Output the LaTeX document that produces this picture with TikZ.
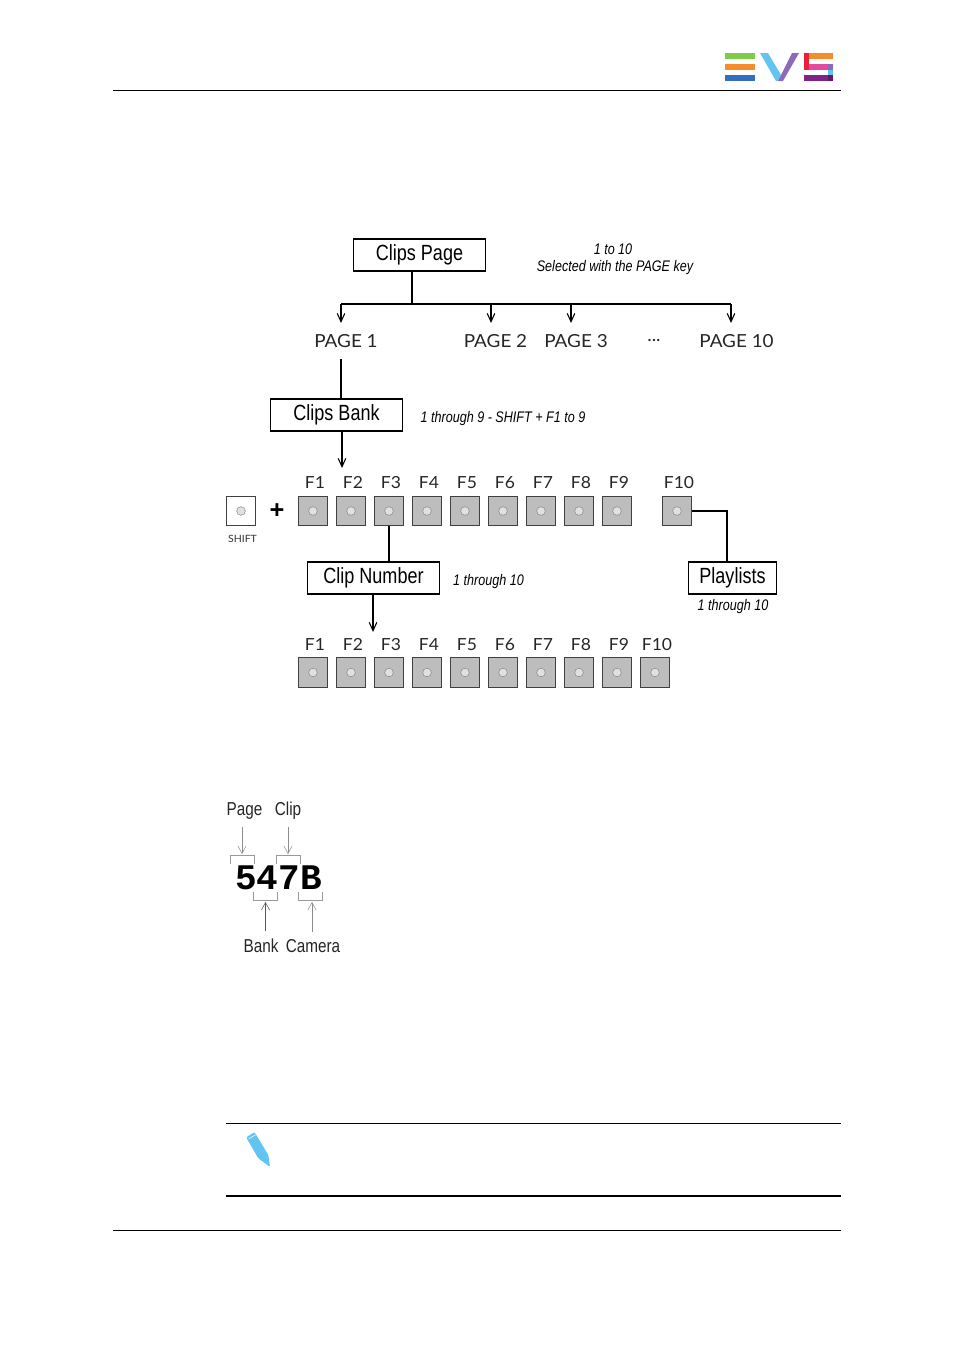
\documentclass[tikz,border=0pt]{standalone}
\usepackage{fontspec}
\setmainfont{Liberation Sans}
\newfontfamily\narrowfont[FakeStretch=0.82]{Liberation Sans}
\newfontfamily\keyfont[FakeStretch=1.05]{Lato}
\newfontfamily\codefont{Liberation Mono}
\usetikzlibrary{arrows.meta, positioning, calc}

\definecolor{evsgreen}{RGB}{126,204,70}
\definecolor{evsorange}{RGB}{245,140,45}
\definecolor{evsblue}{RGB}{50,112,190}
\definecolor{evssky}{RGB}{98,196,240}
\definecolor{evsviolet}{RGB}{140,105,185}
\definecolor{evsred}{RGB}{232,32,60}
\definecolor{evspink}{RGB}{228,75,160}
\definecolor{evspurple}{RGB}{130,35,140}

\begin{document}
\begin{tikzpicture}[x=0.75pt, y=-0.75pt,
    titlebox/.style={
        rectangle, draw, line width=0.9pt, minimum height=24pt, inner sep=0pt,
        font=\narrowfont\fontsize{16.5}{18}\selectfont
    },
    keybox/.style={
        rectangle, draw=black!75, line width=0.8pt, fill=black!26, minimum size=22pt, inner sep=0pt
    },
    dot/.style={circle, draw=black!45, line width=0.4pt, fill=black!12, minimum size=6.5pt, inner sep=0pt},
    keylabel/.style={font=\keyfont\fontsize{12.5}{14}\selectfont, text=black!85},
    pagelabel/.style={font=\keyfont\fontsize{13.5}{15}\selectfont, text=black!85},
    hint/.style={font=\narrowfont\itshape\fontsize{11.5}{14}\selectfont},
    codelabel/.style={font=\narrowfont\fontsize{14}{16}\selectfont, text=black!85},
    arrow/.style={-{Straight Barb[length=2.2mm, width=2mm]}, line width=0.8pt},
    line/.style={line width=0.8pt},
    thinarrow/.style={-{Straight Barb[length=2mm, width=2.2mm]}, line width=0.4pt, draw=black!45},
    bracket/.style={line width=0.4pt, draw=black!40}
]
\useasboundingbox (0,0) rectangle (954,1349);

% Page header and logo
\coordinate (headl) at (113,90.5);
\coordinate (headr) at (841,90.5);
\draw[line width=0.6pt] (headl) -- (headr);
\fill[evsgreen] (725,53) rectangle (755,58.5);
\fill[evsorange] (725,64) rectangle (755,70);
\fill[evsblue] (725,75) rectangle (755,81);
\fill[evssky] (760,53) -- (768,53) -- (781,75) -- (778,81) -- (776,81) -- cycle;
\fill[evsviolet] (792,53) -- (799,53) -- (783,81) -- (778,81) -- cycle;
\fill[evsred] (804,53) rectangle (809,70);
\fill[evsorange] (809,53) rectangle (833,58.5);
\fill[evspink] (809,64) rectangle (828,70);
\fill[evsviolet] (828,64) rectangle (833,70);
\fill[evssky] (828,70) rectangle (833,75);
\fill[evspurple!75!black] (828,75) rectangle (833,81);
\fill[evspurple] (804,75) rectangle (828,81);

% Clips page and its pages
\node[titlebox, minimum width=99.5pt] (clipspage) at (419.5,255) {Clips Page};
\node[hint] (range) at (613,249.5) {1 to 10};
\node[hint] (selected) at (615,267.5) {Selected with the PAGE key};

\node[pagelabel] (page1) at (346,341) {PAGE 1};
\node[pagelabel] (page2) at (495.5,341) {PAGE 2};
\node[pagelabel] (page3) at (576,341) {PAGE 3};
\node[pagelabel] (dots) at (654,341) {...};
\node[pagelabel] (page10) at (736.5,341) {PAGE 10};

\coordinate (busa) at (341,304);
\coordinate (busb) at (491,304);
\coordinate (busc) at (571,304);
\coordinate (busd) at (731,304);
\coordinate (taila) at (341,323);
\coordinate (tailb) at (491,323);
\coordinate (tailc) at (571,323);
\coordinate (taild) at (731,323);
\draw[line] (clipspage.south -| 412,0) -- (412,304);
\draw[line] (busa) -- (busd);
\draw[arrow] (busa) -- (taila);
\draw[arrow] (busb) -- (tailb);
\draw[arrow] (busc) -- (tailc);
\draw[arrow] (busd) -- (taild);

% Clips bank
\node[titlebox, minimum width=99.5pt] (clipsbank) at (336.5,415) {Clips Bank};
\node[hint, anchor=west] (bankrange) at (416,418.5) {1 through 9 - SHIFT + F1 to 9};
\coordinate (banktip) at (342,468);
\draw[line] (341,359) -- (clipsbank.north -| 341,0);
\draw[arrow] (clipsbank.south -| banktip) -- (banktip);

% First row of keys
\node[keybox, fill=white] (shift) at (241,511) {};
\node[dot] (shiftdot) at (shift) {};
\node[font=\keyfont\fontsize{7.5}{9}\selectfont, text=black!80] (shiftlabel) at (242.5,538.5) {SHIFT};
\node[font=\bfseries\fontsize{19}{20}\selectfont] (plus) at (277,511.5) {+};
\foreach \i in {1,...,9} {
    \node[keybox] (f\i) at ({313+38*(\i-1)},511) {};
    \node[dot] (fdot\i) at (f\i) {};
    \node[keylabel] (flabel\i) at ({315+38*(\i-1)},482.5) {F\i};
}
\node[keybox] (f10) at (677,511) {};
\node[dot] (fdot10) at (f10) {};
\node[keylabel] (flabel10) at (679,482.5) {F10};

% Clip number
\node[titlebox, minimum width=99.5pt] (clipnumber) at (373.5,578) {Clip Number};
\node[hint, anchor=west] (numberrange) at (448.5,581.5) {1 through 10};
\coordinate (numbertip) at (373,632);
\draw[line] (f3.south) -- (clipnumber.north -| f3.south);
\draw[arrow] (clipnumber.south -| numbertip) -- (numbertip);

% Playlists
\node[titlebox, minimum width=66.5pt] (playlists) at (732.5,578) {Playlists};
\node[hint] (playrange) at (733,606.5) {1 through 10};
\draw[line] (f10.east) -| (playlists.north -| 727,0);

% Second row of keys
\foreach \i in {1,...,10} {
    \node[keybox] (g\i) at ({313+38*(\i-1)},672.5) {};
    \node[dot] (gdot\i) at (g\i) {};
    \node[keylabel] (glabel\i) at ({315+38*(\i-1)},644.5) {F\i};
}

% Breakdown of the code
\node[codelabel] (pagetext) at (244.5,811) {Page};
\node[codelabel] (cliptext) at (288,811) {Clip};
\node[codelabel] (banktext) at (261,946) {Bank};
\node[codelabel] (cameratext) at (313,946) {Camera};
\node[font=\codefont\bfseries\fontsize{27}{30}\selectfont] (code) at (278.5,878) {547B};

\draw[bracket] (230,864) -- (230,855.5) -- (254,855.5) -- (254,864);
\draw[bracket] (276,864) -- (276,855.5) -- (300.5,855.5) -- (300.5,864);
\draw[bracket] (253.5,891.5) -- (253.5,900.5) -- (277,900.5) -- (277,891.5);
\draw[bracket] (298,891.5) -- (298,900.5) -- (322,900.5) -- (322,891.5);
\coordinate (pagetip) at (242,854);
\coordinate (cliptip) at (288,854);
\coordinate (banktail) at (265.5,902);
\coordinate (cameratail) at (312,902);
\draw[thinarrow] (pagetext.south -| pagetip) ++(0,3) -- (pagetip);
\draw[thinarrow] (cliptext.south -| cliptip) ++(0,3) -- (cliptip);
\draw[thinarrow, draw=black!65] (banktext.north -| banktail) ++(0,-3) -- (banktail);
\draw[thinarrow] (cameratext.north -| cameratail) ++(0,-3) -- (cameratail);

% Note block
\coordinate (notetopl) at (226,1123);
\coordinate (notetopr) at (841,1123);
\coordinate (notebotl) at (226,1196);
\coordinate (notebotr) at (841,1196);
\draw[line width=0.6pt] (notetopl) -- (notetopr);
\draw[line width=1.2pt] (notebotl) -- (notebotr);
\fill[evssky, rounded corners=1pt] (254.5,1132) -- (268.3,1155) -- (270,1167) -- (258.3,1158.3) -- (246.2,1137.5) -- cycle;
\draw[white, line width=0.4pt] (248.5,1139) -- (256,1134.5);

% Page footer
\coordinate (footl) at (113,1230.5);
\coordinate (footr) at (841,1230.5);
\draw[line width=0.6pt] (footl) -- (footr);
\end{tikzpicture}
\end{document}
